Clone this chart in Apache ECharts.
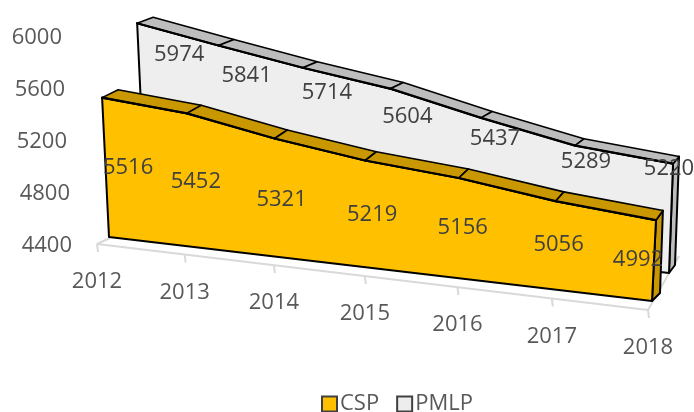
<!DOCTYPE html>
<html>
<head>
<meta charset="utf-8">
<style>html,body{margin:0;padding:0;background:#fff}#c{width:694px;height:412px}</style>
<script src="https://cdn.jsdelivr.net/npm/echarts@6/dist/echarts.min.js"></script>
</head>
<body>
<div id="c"></div>
<script>
const years = ['2012','2013','2014','2015','2016','2017','2018'];
const csp = [5516,5452,5321,5219,5156,5056,4992];
const pmlp = [5974,5841,5714,5604,5437,5289,5220];
const yTicks = [4400,4800,5200,5600,6000];

// layout and style constants
const G = {left:97, top:38, width:551, height:208};
const FONT = '"Open Sans", sans-serif';
const yPad = {6000:10, 5600:7, 5200:5, 4800:2, 4400:0};
// perspective planes: corners [s0t0, s1t0, s0t1, s1t1]
const planes = {
  floor:[[97,244],[648,310],[90,44],[655,100]],
  goldF:[[109,237],[652,301],[99,35],[663,77]],
  goldB:[[123,231],[660,293],[116,27],[668,66]],
  greyF:[[146,213],[669,273],[137,20],[677,56]],
  greyB:[[160,208],[675,265],[153,14],[683,50]]
};
const nudgeGold = [[26,70],[9,68],[7,61],[7,54],[4,50],[3,44],[-18,40]];
const nudgeGrey = [[42,32],[28,30],[24,25],[17,28],[14,21],[11,16],[-4,5]];

function warp(q, s, t){
  const [p0,p1,p3,p2] = [q[0],q[1],q[2],q[3]];
  const dx1=p1[0]-p2[0], dx2=p3[0]-p2[0], sx=p0[0]-p1[0]+p2[0]-p3[0];
  const dy1=p1[1]-p2[1], dy2=p3[1]-p2[1], sy=p0[1]-p1[1]+p2[1]-p3[1];
  const den=dx1*dy2-dx2*dy1;
  const g=(sx*dy2-dx2*sy)/den, h=(dx1*sy-sx*dy1)/den;
  const a=p1[0]-p0[0]+g*p1[0], b=p3[0]-p0[0]+h*p3[0], c=p0[0];
  const d=p1[1]-p0[1]+g*p1[1], e=p3[1]-p0[1]+h*p3[1], f=p0[1];
  const w=g*s+h*t+1;
  return [(a*s+b*t+c)/w,(d*s+e*t+f)/w];
}
function proj(api, plane, i, v){
  const c = api.coord([i, v]);
  const s = (c[0]-G.left)/G.width, t = (G.top+G.height-c[1])/G.height;
  return warp(planes[plane], s, t);
}
function text(x,y,str,color,z){
  return {type:'text',z2:z||10,style:{x:x,y:y,text:str,fill:color,font:'22px '+FONT,align:'center',verticalAlign:'middle'}};
}
function poly(pts,fill,lw){
  return {type:'polygon',shape:{points:pts},style:{fill:fill,stroke:'#000',lineWidth:lw,lineJoin:'round'}};
}
function areaRender(values, front, back, cFront, cTop, nudge){
  return function(params, api){
    const i = params.dataIndex, kids = [];
    if(i===0){
      const n = values.length;
      const pts = values.map((v,k)=>proj(api,front,k,v));
      pts.push(proj(api,front,n-1,yTicks[0]), proj(api,front,0,yTicks[0]));
      kids.push(poly([
        proj(api,front,n-1,values[n-1]), proj(api,back,n-1,values[n-1]),
        proj(api,back,n-1,yTicks[0]), proj(api,front,n-1,yTicks[0])
      ],cTop,2));
      kids.push(poly(pts,cFront,2));
      for(let k=0;k<n-1;k++){
        kids.push(poly([
          proj(api,front,k,values[k]), proj(api,back,k,values[k]),
          proj(api,back,k+1,values[k+1]), proj(api,front,k+1,values[k+1])
        ],cTop,1.6));
      }
      for(let k=0;k<n-1;k++){
        const a=proj(api,front,k,values[k]), b=proj(api,front,k+1,values[k+1]);
        kids.push({type:'line',shape:{x1:a[0],y1:a[1],x2:b[0],y2:b[1]},style:{stroke:'#000',lineWidth:2.2,lineCap:'round'}});
      }
    }
    const top = proj(api,front,i,values[i]);
    kids.push(text(top[0]+nudge[i][0], top[1]+nudge[i][1], String(values[i]), '#404040'));
    return {type:'group',children:kids};
  };
}
function floorRender(params, api){
  const i = params.dataIndex, kids = [];
  const p = proj(api,'floor',i,yTicks[0]);
  const line = (x1,y1,x2,y2)=>({type:'line',shape:{x1,y1,x2,y2},style:{stroke:'#D9D9D9',lineWidth:2}});
  if(i===0){
    const e = proj(api,'floor',years.length-1,yTicks[0]);
    kids.push(line(p[0],p[1],e[0],e[1]), line(p[0],p[1],p[0]+13,p[1]-6), line(e[0],e[1],e[0]+31,e[1]-54));
  }
  kids.push(line(p[0],p[1],p[0]+1,p[1]+8));
  kids.push(text(p[0],p[1]+38,years[i],'#595959'));
  return {type:'group',children:kids};
}

const chart = echarts.init(document.getElementById('c'),null,{renderer:'canvas'});
chart.setOption({
  animation:false,
  backgroundColor:'#fff',
  grid:Object.assign({containLabel:false},G),
  legend:{
    data:['CSP','PMLP'],left:316,top:388,itemWidth:15,itemHeight:15,itemGap:17,
    icon:'rect',
    textStyle:{color:'#595959',fontSize:22,fontFamily:FONT,padding:[0,0,0,-2]},
    selectedMode:false
  },
  xAxis:{type:'category',data:years,boundaryGap:false,show:false},
  yAxis:{
    type:'value',min:4400,max:6000,interval:400,
    axisLine:{show:false},axisTick:{show:false},splitLine:{show:false},
    axisLabel:{
      margin:25,fontSize:22,fontFamily:FONT,color:'#595959',
      formatter:v=>'{p'+v+'|'+v+'}',
      rich:Object.fromEntries(yTicks.map(v=>['p'+v,{fontSize:22,fontFamily:FONT,color:'#595959',padding:[0,yPad[v],0,0]}]))
    }
  },
  series:[
    {type:'custom',name:'axis',silent:true,data:years.map((y,i)=>[i,yTicks[0]]),renderItem:floorRender,encode:{x:0,y:1},z:1},
    {type:'custom',name:'PMLP',data:pmlp.map((v,i)=>[i,v]),encode:{x:0,y:1},z:2,
      itemStyle:{color:'#EDEDED',borderColor:'#404040',borderWidth:1.5},
      renderItem:areaRender(pmlp,'greyF','greyB','#EEEEEE','#BDBDBD',nudgeGrey)},
    {type:'custom',name:'CSP',data:csp.map((v,i)=>[i,v]),encode:{x:0,y:1},z:3,
      itemStyle:{color:'#FFC000',borderColor:'#404040',borderWidth:1.5},
      renderItem:areaRender(csp,'goldF','goldB','#FFC000','#C99700',nudgeGold)}
  ]
});
</script>
</body>
</html>
